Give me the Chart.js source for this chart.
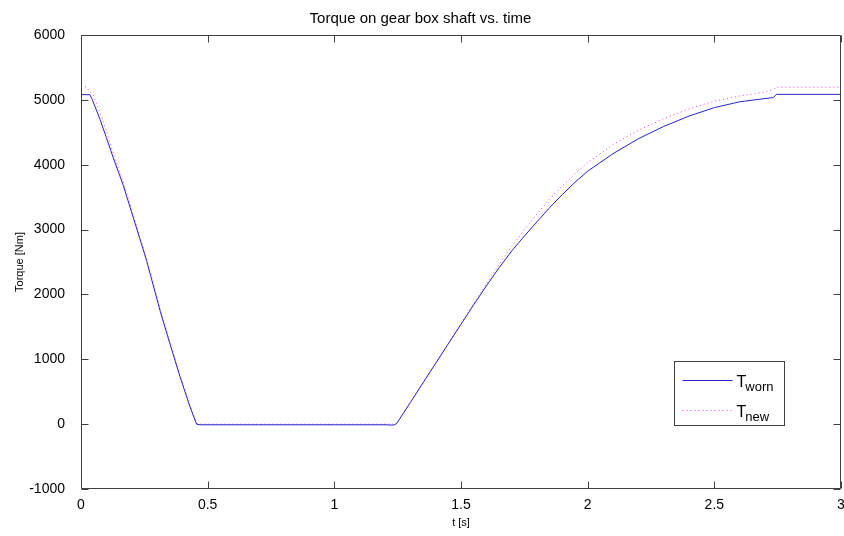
<!DOCTYPE html>
<html>
<head>
<meta charset="utf-8">
<script src="https://cdn.jsdelivr.net/npm/chart.js@4.4.1/dist/chart.umd.min.js"></script>
<style>
  body { margin: 0; background: #fff; }
  #wrap { width: 844px; height: 536px; }
</style>
</head>
<body>
<div id="wrap"><canvas id="torqueChart" width="844" height="536"></canvas></div>
<script>
// values
const tWorn = [0, 0.035, 0.045, 0.075, 0.1, 0.127, 0.167, 0.206, 0.259, 0.312, 0.351, 0.391, 0.43, 0.456, 0.47,
  0.7, 1.0, 1.2, 1.235, 1.246, 1.272, 1.3, 1.35, 1.4, 1.45, 1.5, 1.55, 1.6, 1.65, 1.7, 1.75, 1.8, 1.85, 1.9, 1.95,
  2.0, 2.1, 2.2, 2.3, 2.4, 2.5, 2.6, 2.7, 2.733, 2.745, 3.0];
const torqueWorn = [5080, 5080, 5000, 4700, 4420, 4110, 3680, 3190, 2520, 1750, 1240, 730, 270, 0, -10,
  -10, -10, -10, -15, 10, 165, 334, 636, 938, 1240, 1540, 1840, 2130, 2410, 2670, 2900, 3120, 3340, 3540, 3730,
  3900, 4170, 4400, 4590, 4750, 4880, 4970, 5020, 5035, 5085, 5085];

const tNew = [0, 0.02, 0.05, 0.08, 0.105, 0.13, 0.17, 0.21, 0.262, 0.315, 0.355, 0.395, 0.434, 0.46, 0.47,
  0.7, 1.0, 1.2, 1.245, 1.272, 1.3, 1.35, 1.4, 1.45, 1.5, 1.55, 1.6, 1.65, 1.7, 1.75, 1.8, 1.85, 1.9, 1.95,
  2.0, 2.1, 2.2, 2.3, 2.4, 2.5, 2.6, 2.7, 2.733, 2.745, 3.0];
const torqueNew = [5200, 5200, 5060, 4750, 4460, 4140, 3700, 3180, 2510, 1740, 1220, 710, 250, 0, 0,
  0, 0, 0, 0, 165, 334, 636, 940, 1245, 1550, 1860, 2160, 2460, 2740, 3000, 3240, 3470, 3670, 3860,
  4030, 4310, 4530, 4710, 4860, 4980, 5060, 5120, 5164, 5195, 5195];

const xTicks = [0, 0.5, 1, 1.5, 2, 2.5, 3];
const yTicks = [-1000, 0, 1000, 2000, 3000, 4000, 5000, 6000];
const legendSubs = ['worn', 'new'];

const axisColor = '#404040';
const wornColor = '#2424c8';
const newColor = '#ff33ff';
const fontFamily = 'Arial, "Liberation Sans", Helvetica, sans-serif';

const toPoints = (xs, ys) => xs.map((x, i) => ({ x: x, y: ys[i] }));

// MATLAB style box with inward ticks on all four sides
const matlabFrame = {
    id: 'matlabFrame',
    afterDatasetsDraw(chart) {
        const { ctx, chartArea: a, scales } = chart;
        const L = Math.round(a.left) + 0.5, R = Math.round(a.right) - 0.5;
        const T = Math.round(a.top) + 0.5, B = Math.round(a.bottom) - 0.5;
        const tick = 7;
        ctx.save();
        ctx.strokeStyle = axisColor;
        ctx.lineWidth = 1;
        ctx.beginPath();
        ctx.rect(L, T, R - L, B - T);
        xTicks.forEach(v => {
            const px = Math.round(scales.x.getPixelForValue(v)) + 0.5;
            ctx.moveTo(px, B); ctx.lineTo(px, B - tick);
            ctx.moveTo(px, T); ctx.lineTo(px, T + tick);
        });
        yTicks.forEach(v => {
            const py = Math.round(scales.y.getPixelForValue(v)) + 0.5;
            ctx.moveTo(L, py); ctx.lineTo(L + tick, py);
            ctx.moveTo(R, py); ctx.lineTo(R - tick, py);
        });
        ctx.stroke();
        ctx.restore();
    }
};

// legend box with T_worn / T_new subscripts
const subLegend = {
    id: 'subLegend',
    afterDraw(chart) {
        const { ctx, chartArea: a } = chart;
        const bx = Math.round(a.right) - 166.5, by = Math.round(a.bottom) - 127.5;
        const bw = 110, bh = 64;
        ctx.save();
        ctx.fillStyle = '#fff';
        ctx.fillRect(bx, by, bw, bh);
        ctx.strokeStyle = axisColor;
        ctx.lineWidth = 1;
        ctx.strokeRect(bx, by, bw, bh);
        chart.data.datasets.forEach((ds, i) => {
            const ly = Math.round(by + 18 + i * 30) + 0.5;
            ctx.strokeStyle = ds.borderColor;
            ctx.setLineDash(ds.borderDash || []);
            ctx.beginPath();
            ctx.moveTo(bx + 8, ly);
            ctx.lineTo(bx + 58, ly);
            ctx.stroke();
            ctx.setLineDash([]);
            ctx.fillStyle = '#000';
            ctx.textBaseline = 'alphabetic';
            ctx.font = '16px ' + fontFamily;
            ctx.fillText('T', bx + 62, ly + 6);
            const tw = ctx.measureText('T').width;
            ctx.font = '13px ' + fontFamily;
            ctx.fillText(legendSubs[i], bx + 62 + tw - 1, ly + 10);
        });
        ctx.restore();
    }
};

const chart = new Chart(document.getElementById('torqueChart'), {
    type: 'line',
    data: {
        datasets: [
            {
                label: 'T_worn',
                data: toPoints(tWorn, torqueWorn),
                borderColor: wornColor,
                borderWidth: 1,
                pointRadius: 0,
                tension: 0
            },
            {
                label: 'T_new',
                data: toPoints(tNew, torqueNew),
                borderColor: newColor,
                borderWidth: 1,
                borderDash: [1, 3],
                pointRadius: 0,
                tension: 0
            }
        ]
    },
    options: {
        responsive: false,
        animation: false,
        devicePixelRatio: 1,
        layout: { padding: { left: 0, right: 3, top: 0, bottom: 0 } },
        plugins: {
            legend: { display: false },
            tooltip: { enabled: false },
            title: {
                display: true,
                text: 'Torque on gear box shaft vs. time',
                color: '#000',
                font: { family: fontFamily, size: 15, weight: 'normal' },
                padding: { top: 10, bottom: 7 }
            }
        },
        scales: {
            x: {
                type: 'linear',
                min: 0,
                max: 3,
                grid: { display: false },
                border: { display: false },
                afterBuildTicks: s => { s.ticks = xTicks.map(v => ({ value: v })); },
                ticks: {
                    color: '#000',
                    padding: 0,
                    maxRotation: 0,
                    font: { family: fontFamily, size: 14 },
                    callback: v => String(v)
                },
                title: {
                    display: true,
                    text: 't [s]',
                    color: '#000',
                    font: { family: fontFamily, size: 11 },
                    padding: { top: 0, bottom: 6 }
                },
                afterFit: s => { s.height = 47; s.paddingLeft = 0; s.paddingRight = 0; }
            },
            y: {
                min: -1000,
                max: 6000,
                grid: { display: false },
                border: { display: false },
                afterBuildTicks: s => { s.ticks = yTicks.map(v => ({ value: v })); },
                ticks: {
                    color: '#000',
                    padding: 8,
                    font: { family: fontFamily, size: 14 },
                    callback: v => String(v)
                },
                title: {
                    display: true,
                    text: 'Torque [Nm]',
                    color: '#000',
                    font: { family: fontFamily, size: 11 },
                    padding: { top: 13, bottom: 0 }
                },
                afterFit: s => { s.width = 81; s.paddingTop = 0; s.paddingBottom = 0; }
            }
        }
    },
    plugins: [matlabFrame, subLegend]
});
</script>
</body>
</html>
